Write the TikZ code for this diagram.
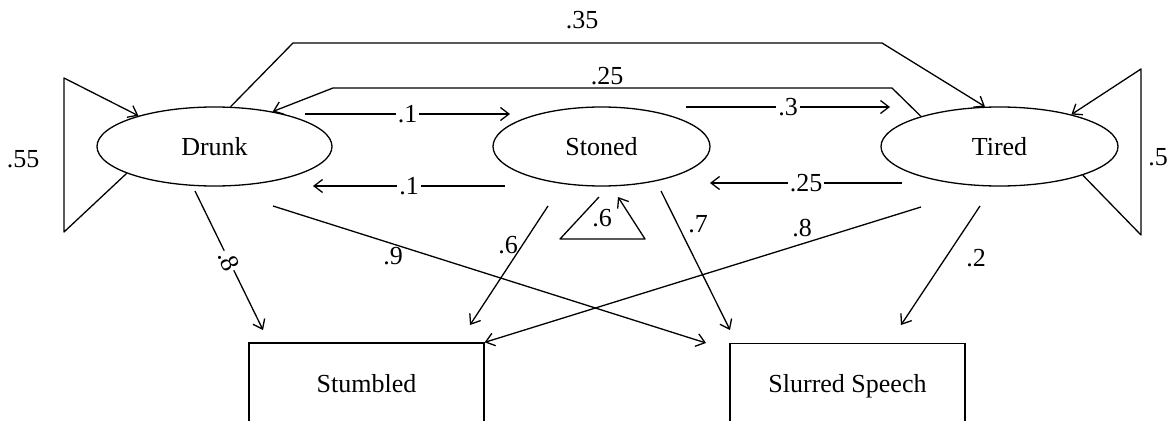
\documentclass[tikz,border=0pt]{standalone}
\usepackage{fontspec}
\setmainfont{Liberation Serif}
\usetikzlibrary{shapes.geometric,arrows.meta}
\begin{document}
\begin{tikzpicture}[x=1pt,y=-1pt,
  every node/.style={font=\fontsize{26}{30}\selectfont},
  state/.style={ellipse,draw,line width=1.3pt,minimum height=79pt,inner sep=0pt,text height=17pt,text depth=0pt},
  outcome/.style={rectangle,draw,line width=1.3pt,minimum width=235pt,minimum height=80pt,inner sep=0pt,text height=18pt,text depth=0pt},
  link/.style={line width=1.3pt,line join=round,-{Straight Barb[length=8.5pt,width=13pt,line width=1.3pt]}},
  lbl/.style={inner sep=0pt},
  onlbl/.style={fill=white,inner sep=2pt}]
\useasboundingbox (0,0) rectangle (1169,420);
\clip (0,0) rectangle (1169,420);

% states
\node[state,minimum width=235pt] (drunk) at (214.5,146.5) {Drunk};
\node[state,minimum width=217pt] (stoned) at (601.5,146.5) {Stoned};
\node[state,minimum width=237pt] (tired) at (999.5,146.5) {Tired};
% outcomes
\node[outcome] (stumbled) at (366.5,383) {Stumbled};
\node[outcome] (slurred) at (847.5,383.5) {Slurred Speech};

% free connector ends
\coordinate (dsA) at (305,114);   \coordinate (dsB) at (510,114);
\coordinate (stA) at (686,107);   \coordinate (stB) at (890,107);
\coordinate (sdA) at (505,186);   \coordinate (sdB) at (313,186);
\coordinate (tsA) at (902,183);   \coordinate (tsB) at (710,183);
\coordinate (d35a) at (293,43);   \coordinate (d35b) at (882,43);
\coordinate (t25a) at (892,88);   \coordinate (t25b) at (333,88);
\coordinate (dl1) at (64,232);    \coordinate (dl2) at (64,78);
\coordinate (tl1) at (1141,235);  \coordinate (tl2) at (1141,69);
\coordinate (sl0) at (599,197);   \coordinate (sl1) at (560,239);
\coordinate (sl2) at (645,239);   \coordinate (sl3) at (618,197);
\coordinate (d8a) at (195,191);   \coordinate (d8b) at (263,330);
\coordinate (d9a) at (273,206);   \coordinate (d9b) at (706,343);
\coordinate (s6a) at (548,206);   \coordinate (s6b) at (470,325);
\coordinate (s7a) at (661,191);   \coordinate (s7b) at (730,330);
\coordinate (t8a) at (921,207);
\coordinate (t2a) at (980,206);   \coordinate (t2b) at (901,325);

% top long arcs
\draw[link] (drunk.68.4) -- (d35a) -- (d35b) -- (tired.110.6);
\node[lbl] (l35) at (582,20) {.35};
\draw[link] (tired.159.2) -- (t25a) -- (t25b) -- (drunk.31.9);
\node[lbl] (l25a) at (607,76) {.25};

% horizontal transitions
\draw[link] (dsA) -- node[onlbl] {.1} (dsB);
\draw[link] (stA) -- node[onlbl] {.3} (stB);
\draw[link] (sdA) -- node[onlbl] {.1} (sdB);
\draw[link] (tsA) -- node[onlbl] {.25} (tsB);

% self loops
\draw[link] (drunk.-163.5) -- (dl1) -- (dl2) -- (drunk.158.4);
\node[lbl] (l55) at (23,159) {.55};
\draw[link] (tired.-19.1) -- (tl1) -- (tl2) -- (tired.24.7);
\node[lbl] (l5) at (1158,157) {.5};
\draw[link] (sl0) -- (sl1) -- (sl2) -- (sl3);
\node[lbl] (l6s) at (602,218) {.6};

% emissions
\draw[link] (d8a) -- node[onlbl,sloped,inner sep=1pt] {.8} (d8b);
\draw[link] (d9a) -- (d9b);
\node[lbl] (l9) at (393,256) {.9};
\draw[link] (s6a) -- (s6b);
\node[lbl] (l6) at (508,245) {.6};
\draw[link] (s7a) -- (s7b);
\node[lbl] (l7) at (698,224) {.7};
\draw[link] (t8a) -- (stumbled.north east);
\node[lbl] (l8) at (802,228) {.8};
\draw[link] (t2a) -- (t2b);
\node[lbl] (l2) at (976,258) {.2};
\end{tikzpicture}
\end{document}
